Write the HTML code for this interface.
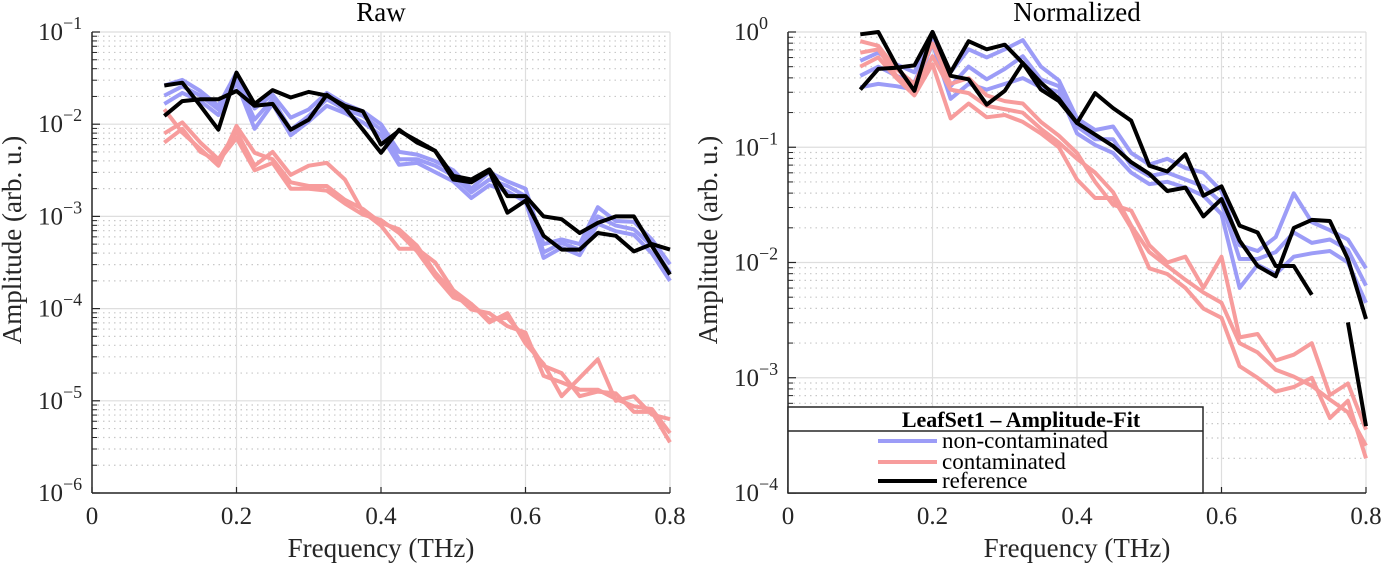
<!DOCTYPE html>
<html><head><meta charset="utf-8">
<style>
html,body{margin:0;padding:0;background:#fff;}
svg{display:block;font-family:"Liberation Serif",serif;}
</style></head>
<body>
<svg id="chart" width="1382" height="565" viewBox="0 0 1382 565"></svg>
<script>
const freqs = [0.1,0.125,0.15,0.175,0.2,0.225,0.25,0.275,0.3,0.325,0.35,0.375,0.4,0.425,0.45,0.475,0.5,0.525,0.55,0.575,0.6,0.625,0.65,0.675,0.7,0.725,0.75,0.775,0.8];
const xTicks = [0,0.2,0.4,0.6,0.8];
const xTickLabels = ["0","0.2","0.4","0.6","0.8"];
const rawExpTicks = [-1,-2,-3,-4,-5,-6];
const normExpTicks = [0,-1,-2,-3,-4];
// log10 amplitudes, Raw panel
const rawBlue1 = [-1.69,-1.59,-1.69,-1.84,-1.51,-1.95,-1.73,-2.06,-1.91,-1.73,-1.84,-1.91,-2.06,-2.38,-2.38,-2.45,-2.56,-2.74,-2.60,-2.67,-2.78,-3.39,-3.29,-3.36,-3.00,-3.10,-3.14,-3.32,-3.61];
const rawBlue2 = [-1.58,-1.52,-1.64,-1.80,-1.44,-1.83,-1.68,-1.93,-1.84,-1.66,-1.78,-1.86,-2.00,-2.30,-2.33,-2.40,-2.50,-2.70,-2.52,-2.62,-2.70,-3.30,-3.25,-3.30,-2.90,-3.05,-3.06,-3.25,-3.52];
const rawBlue3 = [-1.78,-1.66,-1.75,-1.90,-1.55,-2.05,-1.78,-2.12,-1.97,-1.80,-1.88,-1.98,-2.12,-2.44,-2.42,-2.52,-2.62,-2.80,-2.66,-2.73,-2.84,-3.45,-3.34,-3.42,-3.08,-3.16,-3.20,-3.40,-3.70];
const rawRed1 = [-1.84,-2.09,-2.27,-2.45,-2.02,-2.31,-2.38,-2.63,-2.67,-2.67,-2.82,-2.92,-3.07,-3.14,-3.32,-3.61,-3.83,-4.01,-4.05,-4.19,-4.26,-4.73,-4.80,-4.88,-4.88,-4.98,-5.06,-5.09,-5.35];
const rawRed2 = [-2.10,-1.98,-2.20,-2.38,-2.08,-2.45,-2.30,-2.55,-2.45,-2.42,-2.60,-2.95,-3.10,-3.35,-3.35,-3.50,-3.80,-3.95,-4.15,-4.05,-4.38,-4.60,-4.95,-4.75,-4.55,-5.00,-4.95,-5.15,-5.20];
const rawRed3 = [-2.20,-2.05,-2.30,-2.40,-2.15,-2.50,-2.42,-2.70,-2.70,-2.72,-2.86,-2.98,-3.04,-3.18,-3.38,-3.65,-3.88,-3.95,-4.12,-4.10,-4.32,-4.62,-4.70,-4.95,-4.90,-4.92,-5.12,-5.12,-5.45];
const rawRef1 = [-1.58,-1.55,-1.80,-2.06,-1.44,-1.78,-1.63,-1.71,-1.65,-1.69,-1.80,-1.86,-2.22,-2.07,-2.18,-2.29,-2.56,-2.60,-2.49,-2.78,-2.78,-3.00,-3.03,-3.18,-3.07,-3.00,-3.00,-3.32,-3.63];
const rawRef2 = [-1.91,-1.75,-1.73,-1.73,-1.64,-1.80,-1.78,-2.06,-1.95,-1.68,-1.82,-2.06,-2.31,-2.06,-2.20,-2.29,-2.60,-2.63,-2.51,-2.96,-2.83,-3.21,-3.36,-3.36,-3.18,-3.21,-3.38,-3.30,-3.36];
// log10 amplitudes, Normalized panel
const normBlue1 = [-0.38,-0.30,-0.38,-0.44,-0.06,-0.47,-0.30,-0.41,-0.32,-0.21,-0.41,-0.47,-0.82,-0.93,-0.93,-1.16,-1.25,-1.22,-1.28,-1.34,-1.48,-1.97,-1.97,-1.91,-1.74,-1.83,-1.80,-1.89,-2.20];
const normBlue2 = [-0.25,-0.18,-0.28,-0.35,-0.02,-0.35,-0.15,-0.22,-0.15,-0.07,-0.30,-0.42,-0.75,-0.85,-0.82,-1.05,-1.15,-1.10,-1.18,-1.22,-1.38,-1.85,-1.90,-1.78,-1.40,-1.65,-1.72,-1.80,-2.05];
const normBlue3 = [-0.48,-0.45,-0.47,-0.50,-0.10,-0.58,-0.45,-0.50,-0.45,-0.40,-0.48,-0.52,-0.88,-0.98,-1.05,-1.22,-1.32,-1.30,-1.35,-1.42,-1.58,-2.22,-2.02,-2.10,-1.95,-1.92,-1.90,-2.00,-2.35];
const normRed1 = [-0.18,-0.15,-0.38,-0.50,-0.21,-0.50,-0.53,-0.64,-0.67,-0.70,-0.84,-0.96,-1.10,-1.22,-1.39,-1.68,-1.91,-2.03,-2.15,-2.26,-2.35,-2.70,-2.78,-2.93,-2.99,-3.07,-3.19,-3.30,-3.59];
const normRed2 = [-0.08,-0.12,-0.32,-0.45,-0.10,-0.45,-0.40,-0.55,-0.60,-0.62,-0.78,-0.90,-1.05,-1.30,-1.50,-1.55,-1.85,-2.00,-1.95,-2.22,-1.95,-2.65,-2.62,-2.85,-2.80,-2.70,-3.15,-3.05,-3.45];
const normRed3 = [-0.30,-0.22,-0.40,-0.55,-0.28,-0.75,-0.62,-0.74,-0.72,-0.78,-0.88,-1.00,-1.28,-1.44,-1.44,-1.70,-2.05,-2.10,-2.22,-2.40,-2.48,-2.90,-3.00,-3.12,-3.08,-3.00,-3.35,-3.20,-3.70];
const normRef1 = [-0.02,0.00,-0.29,-0.51,0.00,-0.35,-0.08,-0.15,-0.11,-0.27,-0.50,-0.60,-0.79,-0.53,-0.66,-0.77,-1.16,-1.21,-1.06,-1.42,-1.34,-1.68,-1.74,-2.03,-2.03,-2.28,null,-2.52,-3.42];
const normRef2 = [-0.50,-0.32,-0.31,-0.29,0.00,-0.38,-0.41,-0.63,-0.51,-0.27,-0.44,-0.58,-0.79,-0.89,-0.99,-1.13,-1.23,-1.38,-1.35,-1.60,-1.45,-1.81,-2.03,-2.12,-1.70,-1.63,-1.64,-1.97,-2.49];

const NS = "http://www.w3.org/2000/svg";
const svg = document.getElementById('chart');
function mk(tag, attrs, parent){const e=document.createElementNS(NS,tag);for(const k in attrs)e.setAttribute(k,attrs[k]);(parent||svg).appendChild(e);return e;}

function panel(opt){
  const L=opt.left, R=opt.left+578, T=32, B=493;
  const g=mk('g',{});
  
  
  const xs=f=>L+(f-0)/(0.8)*(R-L);
  const ys=v=>T+(opt.top-v)/(opt.top-opt.bot)*(B-T);
  for(let d=opt.bot; d<opt.top; d++){
    for(let m=2;m<=9;m++){
      const y=ys(d+Math.log10(m));
      mk('line',{x1:L,x2:R,y1:y,y2:y,stroke:'#c8c8c8','stroke-width':1.2,'stroke-dasharray':'1.5 4'},g);
      mk('line',{x1:L,x2:L+5,y1:y,y2:y,stroke:'#262626','stroke-width':1},g);
    }
  }
  for(let d=opt.bot; d<=opt.top; d++){
    const y=ys(d);
    mk('line',{x1:L,x2:R,y1:y,y2:y,stroke:'#dedede','stroke-width':1.2},g);
    mk('line',{x1:L,x2:L+8,y1:y,y2:y,stroke:'#262626','stroke-width':1.2},g);
  }
  xTicks.forEach((t,i)=>{
    const x=xs(t);
    if(i>0) mk('line',{x1:x,x2:x,y1:T,y2:B,stroke:'#dedede','stroke-width':1.2},g);
    mk('line',{x1:x,x2:x,y1:B,y2:B-6,stroke:'#262626','stroke-width':1.2},g);
    const tx=mk('text',{x:x,y:B+31,'text-anchor':'middle','font-size':25,fill:'#262626'},g);
    tx.textContent=xTickLabels[i];
    
    
  });
  opt.ticks.forEach(d=>{
    const y=ys(d);
    const tx=mk('text',{x:L-29,y:y+8,'text-anchor':'end','font-size':25,fill:'#262626'},g);
    tx.textContent='10';
    
    
    const sp=mk('text',{x:L-29,y:y-3,'text-anchor':'start','font-size':18,fill:'#262626'},g);
    sp.textContent=d===0?'0':'\u2212'+(-d);
  });
  mk('line',{x1:L,x2:L,y1:T,y2:B,stroke:'#262626','stroke-width':1.5},g);
  mk('line',{x1:L,x2:R,y1:B,y2:B,stroke:'#262626','stroke-width':1.5},g);
  const plotLine=(vals,color,name)=>{
    let d='',pen=false;
    vals.forEach((v,i)=>{
      if(v===null){pen=false;return;}
      d+=(pen?'L':'M')+xs(freqs[i]).toFixed(1)+' '+ys(v).toFixed(1);
      pen=true;
    });
    const p=mk('path',{d:d,fill:'none',stroke:color,'stroke-width':4,'stroke-linejoin':'round'},g);
    
    
  };
  opt.blue.forEach(s=>plotLine(s,'#9c9cf7','non-contaminated-line'));
  opt.red.forEach(s=>plotLine(s,'#f79c9c','contaminated-line'));
  opt.ref.forEach(s=>plotLine(s,'#000','reference-line'));
  const ti=mk('text',{x:(L+R)/2,y:21,'text-anchor':'middle','font-size':27,fill:'#000'},g);
  ti.textContent=opt.title;
  
  
  const xl=mk('text',{x:(L+R)/2,y:557,'text-anchor':'middle','font-size':27,fill:'#262626'},g);
  xl.textContent='Frequency (THz)';
  
  
  const yl=mk('text',{x:0,y:0,'text-anchor':'middle','font-size':27,fill:'#262626',transform:`translate(${L-71},240) rotate(-90)`},g);
  yl.textContent='Amplitude (arb. u.)';
  
  
}
panel({name:'raw-panel',left:92,top:-1,bot:-6,ticks:rawExpTicks,title:'Raw',
  blue:[rawBlue1,rawBlue2,rawBlue3],red:[rawRed1,rawRed2,rawRed3],ref:[rawRef1,rawRef2]});
panel({name:'normalized-panel',left:788,top:0,bot:-4,ticks:normExpTicks,title:'Normalized',
  blue:[normBlue1,normBlue2,normBlue3],red:[normRed1,normRed2,normRed3],ref:[normRef1,normRef2]});

const lg=mk('g',{});


mk('rect',{x:788,y:407,width:415,height:86,fill:'#fff',stroke:'#262626','stroke-width':1.5},lg);
mk('line',{x1:788,x2:1203,y1:431,y2:431,stroke:'#262626','stroke-width':1.5},lg);
const lt=mk('text',{x:1021,y:427,'text-anchor':'middle','font-size':22,'font-weight':'bold',fill:'#000'},lg);
lt.textContent='LeafSet1 \u2013 Amplitude-Fit';
[['#9c9cf7','non-contaminated',441],['#f79c9c','contaminated',462],['#000','reference',481]].forEach(e=>{
  const it=mk('g',{},lg);
  
  
  mk('line',{x1:878,x2:937,y1:e[2],y2:e[2],stroke:e[0],'stroke-width':4},it);
  const t=mk('text',{x:942,y:e[2]+7,'font-size':23,fill:'#000'},it);
  t.textContent=e[1];
});
</script>
</body></html>
